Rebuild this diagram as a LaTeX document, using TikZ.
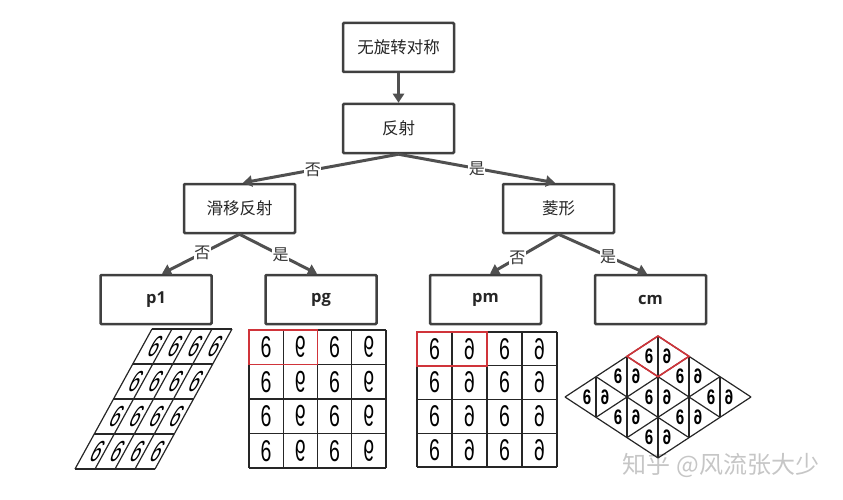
\documentclass[tikz,border=0pt]{standalone}
\usepackage{fontspec}
\usepackage{graphicx}
\setmainfont{Open Sans}
\newfontfamily\cjk{Noto Sans CJK SC}
\newfontfamily\sixfont[FakeStretch=0.65]{Liberation Sans}
\newfontfamily\slantsix[FakeStretch=0.58,FakeSlant=0.5]{Liberation Sans}
\newfontfamily\cmsix[FakeStretch=0.72]{Liberation Sans}
\usetikzlibrary{arrows.meta}
\definecolor{boxgray}{HTML}{404040}
\definecolor{arrowgray}{HTML}{505050}
\definecolor{tilered}{HTML}{D0343A}

\begin{document}
\begin{tikzpicture}[x=1pt,y=-1pt,
	box/.style={draw=boxgray,line width=2.5pt,minimum width=111pt,minimum height=49pt,rounded corners=1pt,inner sep=0pt,text=black!85},
	branch/.style={draw=arrowgray,line width=3pt,-{Triangle[width=11pt,length=9pt]}},
	answer/.style={fill=white,inner sep=0.5pt,font=\cjk\fontsize{16}{16}\selectfont,text=black!80},
	tile/.style={line width=1.2pt,draw=black!85},
	redtile/.style={line width=1.6pt,draw=tilered},
	six/.style={inner sep=0pt,font=\sixfont\fontsize{30}{30}\selectfont},
	sixslant/.style={inner sep=0pt,font=\slantsix\fontsize{29}{29}\selectfont},
	sixcm/.style={inner sep=0pt,font=\cmsix\bfseries\fontsize{21}{21}\selectfont}
	]
	\useasboundingbox (0,0) rectangle (843,500);

	%Nodes
	\node[box,font=\cjk\fontsize{16.5}{16.5}\selectfont] (nosym) at (398.5,47.5) {无旋转对称};
	\node[box,font=\cjk\fontsize{16.5}{16.5}\selectfont] (refl)  at (398.5,128.5) {反射};
	\node[box,font=\cjk\fontsize{16.5}{16.5}\selectfont] (glide) at (239.5,208.5) {滑移反射};
	\node[box,font=\cjk\fontsize{16.5}{16.5}\selectfont] (rhomb) at (558.5,208.5) {菱形};
	\node[box,font=\bfseries\fontsize{16.5}{16.5}\selectfont] (p1) at (156,299.5) {p1};
	\node[box,font=\bfseries\fontsize{16.5}{16.5}\selectfont] (pg) at (321,299.5) {pg};
	\node[box,font=\bfseries\fontsize{16.5}{16.5}\selectfont] (pm) at (485.5,299.5) {pm};
	\node[box,font=\bfseries\fontsize{16.5}{16.5}\selectfont] (cm) at (650.5,299.5) {cm};
	\node[font=\cjk\fontsize{24}{24}\selectfont,text=gray!45] (mark) at (721,465) {知乎 @风流张大少};

	%Lines
	\draw[branch] (nosym.south) -- (refl.north);
	\draw[branch] (refl.south) -- ([xshift=3.5pt]glide.north) node[answer,pos=0.55] (no1) {否};
	\draw[branch] (refl.south) -- ([xshift=-3.5pt]rhomb.north) node[answer,pos=0.5] (yes1) {是};
	\draw[branch] (glide.south) -- ([xshift=6pt]p1.north) node[answer,pos=0.48] (no2) {否};
	\draw[branch] (glide.south) -- ([xshift=-4pt]pg.north) node[answer,pos=0.53] (yes2) {是};
	\draw[branch] (rhomb.south) -- ([xshift=4.5pt]pm.north) node[answer,pos=0.6] (no3) {否};
	\draw[branch] (rhomb.south) -- ([xshift=-3.5pt]cm.north) node[answer,pos=0.56] (yes3) {是};

	%p1
	\foreach \k in {0,...,4} {
		\draw[tile] (75+19.25*\k,469-35*\k) -- (155+19.25*\k,469-35*\k);
		\draw[tile] (75+20*\k,469) -- (152+20*\k,329);
	}
	\foreach \c in {0,...,3}
		\foreach \r in {0,...,3}
			\node[sixslant] (pa\c\r) at (85+20*\c+19.25*\r+7.5,469-35*\r-17.5) {6};

	%pg
	\foreach \k in {0,...,4} {
		\draw[tile] (249+34.25*\k,330) -- (249+34.25*\k,468);
		\draw[tile] (249,330+34.5*\k) -- (386,330+34.5*\k);
	}
	\foreach \c in {0,...,3}
		\foreach \r in {0,...,3}
			\node[six] (pg\c\r) at (266.1+34.25*\c,347.25+34.5*\r) {\ifodd\c\relax\scalebox{1}[-1]{6}\else 6\fi};
	\draw[redtile] (249,330) rectangle (317.5,364.5);

	%pm
	\foreach \k in {0,...,4} {
		\draw[tile] (417+35*\k,332) -- (417+35*\k,467);
		\draw[tile] (417,332+33.75*\k) -- (557,332+33.75*\k);
	}
	\foreach \c in {0,...,3}
		\foreach \r in {0,...,3}
			\node[six] (pm\c\r) at (434.5+35*\c,348.9+33.75*\r) {\ifodd\c\relax\reflectbox{6}\else 6\fi};
	\draw[redtile] (417,332) rectangle (487,365.75);

	%cm
	\foreach \k in {0,...,3} {
		\draw[tile] (658-31*\k,336+20.33*\k) -- (751-31*\k,397+20.33*\k);
		\draw[tile] (658+31*\k,336+20.33*\k) -- (565+31*\k,397+20.33*\k);
	}
	\foreach \i in {0,1,2}
		\foreach \j in {0,1,2} {
			\draw[tile] (658-31*\i+31*\j,336+20.33*\i+20.33*\j) -- (658-31*\i+31*\j,376.67+20.33*\i+20.33*\j);
			\node[sixcm] (cl\i\j) at (649-31*\i+31*\j,356.33+20.33*\i+20.33*\j) {6};
			\node[sixcm] (cr\i\j) at (667-31*\i+31*\j,356.33+20.33*\i+20.33*\j) {\reflectbox{6}};
		}
	\draw[redtile] (658,336) -- (627,356.33) -- (658,376.67) -- (689,356.33) -- cycle;
\end{tikzpicture}
\end{document}
